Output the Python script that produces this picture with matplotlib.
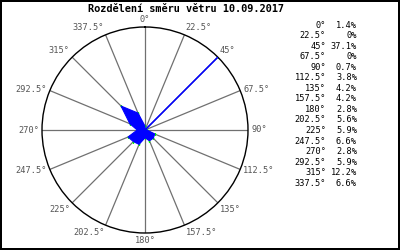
import matplotlib
matplotlib.use('Agg')
import matplotlib.pyplot as plt
import numpy as np

# wind direction share (percent) for 16 sectors
directions = [0, 22.5, 45, 67.5, 90, 112.5, 135, 157.5, 180, 202.5, 225, 247.5, 270, 292.5, 315, 337.5]
shares = [1.4, 0, 37.1, 0, 0.7, 3.8, 4.2, 4.2, 2.8, 5.6, 5.9, 6.6, 2.8, 5.9, 12.2, 6.6]
title = 'Rozdělení směru větru 10.09.2017'

plt.rcParams['font.family'] = 'DejaVu Sans Mono'

W, H = 400, 250
fig = plt.figure(figsize=(4, 2.5), dpi=100)
fig.patch.set_edgecolor('black')
fig.patch.set_linewidth(1.5)

cx, cy, R = 145, 130, 103
ax = fig.add_axes([(cx - R) / W, (H - cy - R) / H, 2 * R / W, 2 * R / H], projection='polar')
ax.set_theta_zero_location('N')
ax.set_theta_direction(-1)
rmax = max(shares)
ax.set_ylim(0, rmax)
ax.grid(False)
ax.set_xticks([])
ax.set_yticks([])
ax.spines['polar'].set_color('black')
ax.spines['polar'].set_linewidth(1.0)

theta = np.radians(directions)

# spokes
for th in theta:
    ax.plot([th, th], [0, rmax], color='#707070', lw=0.9, zorder=1)

# rose polygon
ax.fill(theta, shares, color='#0000ff', lw=0.8, edgecolor='#0000ff', zorder=3)
ax.plot(theta, shares, ls='none', marker='s', ms=1.2, color='#00ff00', mec='none', zorder=2)

# direction labels around the circle
for d, th in zip(directions, theta):
    s, c = np.sin(th), np.cos(th)
    ha = 'left' if s > 0.1 else ('right' if s < -0.1 else 'center')
    va = 'bottom' if c > 0.5 else ('top' if c < -0.5 else 'center')
    ax.text(th, rmax * 1.03, f'{d:g}°', ha=ha, va=va, fontsize=6.2,
            color='#555555', clip_on=False)

# title
fig.text(88 / W, 1 - 9.5 / H, title, ha='left', va='center', fontsize=7.4,
         fontweight='bold', color='black')

# legend table on the right
y0, dy = 25, 10.55
for i, (d, v) in enumerate(zip(directions, shares)):
    y = 1 - (y0 + i * dy) / H
    fig.text(326 / W, y, f'{d:g}°', ha='right', va='center', fontsize=6.2, color='black')
    fig.text(357 / W, y, f'{v:g}%', ha='right', va='center', fontsize=6.2, color='black')

fig.savefig('out.png', dpi=100, edgecolor=fig.get_edgecolor())
